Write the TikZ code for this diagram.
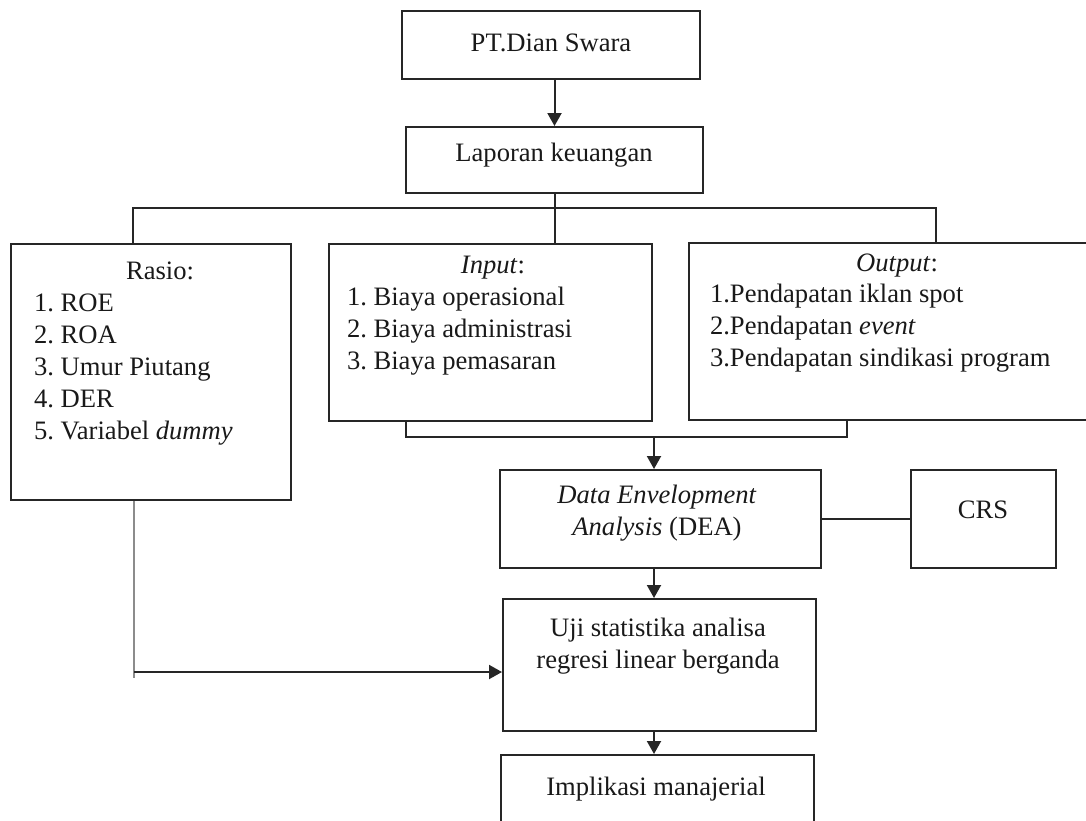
\documentclass[tikz,border=0pt]{standalone}
\usepackage{fontspec}
\setmainfont{Liberation Serif}
\usetikzlibrary{arrows.meta}

\begin{document}
\begin{tikzpicture}[x=0.5pt,y=-0.5pt,line width=1pt,>={Triangle[length=6.5pt,width=7pt]},font=\fontsize{13.3}{16}\selectfont\frenchspacing]
    \tikzstyle{box}=[draw=black!85, rectangle, inner sep=0pt, fill=none]
    \tikzstyle{lbl}=[inner sep=0pt, anchor=base, text=black!90]
    \tikzstyle{lst}=[inner sep=0pt, anchor=base west, align=left, text=black!90]
    \tikzstyle{link}=[draw=black!85]
    \tikzstyle{faint}=[draw=black!45, line width=1.4pt]

    \useasboundingbox (0,0) rectangle (1086,820);
    \clip (0,0) rectangle (1086,820);

    % boxes
    \node[box, minimum width=149pt,   minimum height=34pt]   (pt)    at (551,45)      {};
    \node[box, minimum width=148.5pt, minimum height=33pt]   (lap)   at (554.5,160)   {};
    \node[box, minimum width=140pt,   minimum height=128pt]  (rasio) at (151,372)     {};
    \node[box, minimum width=161.5pt, minimum height=88.5pt] (inp)   at (490.5,332.5) {};
    \node[box, minimum width=205.5pt, minimum height=88.5pt] (outp)  at (894.5,331.5) {};
    \node[box, minimum width=160.5pt, minimum height=49pt]   (dea)   at (660.5,519)   {};
    \node[box, minimum width=72.5pt,  minimum height=49pt]   (crs)   at (983.5,519)   {};
    \node[box, minimum width=156.5pt, minimum height=66pt]   (uji)   at (659.5,665)   {};
    \node[box, minimum width=156.5pt, minimum height=47.5pt] (impl)  at (657.5,802.5) {};

    % texts (multi-line: base is the last line)
    \node[lbl] (ptlbl)    at (551,51)  {PT.Dian Swara};
    \node[lbl] (laplbl)   at (554,161) {Laporan keuangan};
    \node[lbl] (rasiottl) at (160,279) {Rasio:};
    \node[lst] (rasiolst) at (33,439)  {1. ROE\\2. ROA\\3. Umur Piutang\\4. DER\\5. Variabel \textit{dummy}};
    \node[lbl] (inpttl)   at (493,273) {\textit{Input}:};
    \node[lst] (inplst)   at (346,369) {1. Biaya operasional\\2. Biaya administrasi\\3. Biaya pemasaran};
    \node[lbl] (outpttl)  at (897,271) {\textit{Output}:};
    \node[lst] (outplst)  at (709,366) {1.Pendapatan iklan spot\\2.Pendapatan \textit{event}\\3.Pendapatan sindikasi program};
    \node[lbl, align=center] (dealbl) at (657,535) {\textit{Data Envelopment}\\\textit{Analysis} (DEA)};
    \node[lbl] (crslbl)   at (983,518) {CRS};
    \node[lbl, align=center] (ujilbl) at (658,668) {Uji statistika analisa\\regresi linear berganda};
    \node[lbl] (impllbl)  at (656,795) {Implikasi manajerial};

    % connectors
    \coordinate (busl) at (133,208);
    \coordinate (busr) at (936,208);
    \coordinate (brl)  at (406,437);
    \coordinate (brr)  at (847,437);
    \coordinate (brm)  at (654,437);
    \coordinate (bend) at (134,672);

    \draw[link,->] (pt.south -| lap.south) -- (lap.north);
    \draw[link] (lap.south) -- (lap.south |- inp.north);
    \draw[link] (busl |- rasio.north) -- (busl) -- (busr) -- (busr |- outp.north);
    \draw[link] (brl |- inp.south) -- (brl) -- (brr) -- (brr |- outp.south);
    \draw[link,->] (brm) -- (brm |- dea.north);
    \draw[link] (dea.east) -- (crs.west);
    \draw[link,->] (brm |- dea.south) -- (brm |- uji.north);
    \draw[link,->] (brm |- uji.south) -- (brm |- impl.north);
    \draw[faint] (bend |- rasio.south) -- ([yshift=-3pt]bend);
    \draw[link,->] (bend) -- (bend -| uji.west);
\end{tikzpicture}
\end{document}
